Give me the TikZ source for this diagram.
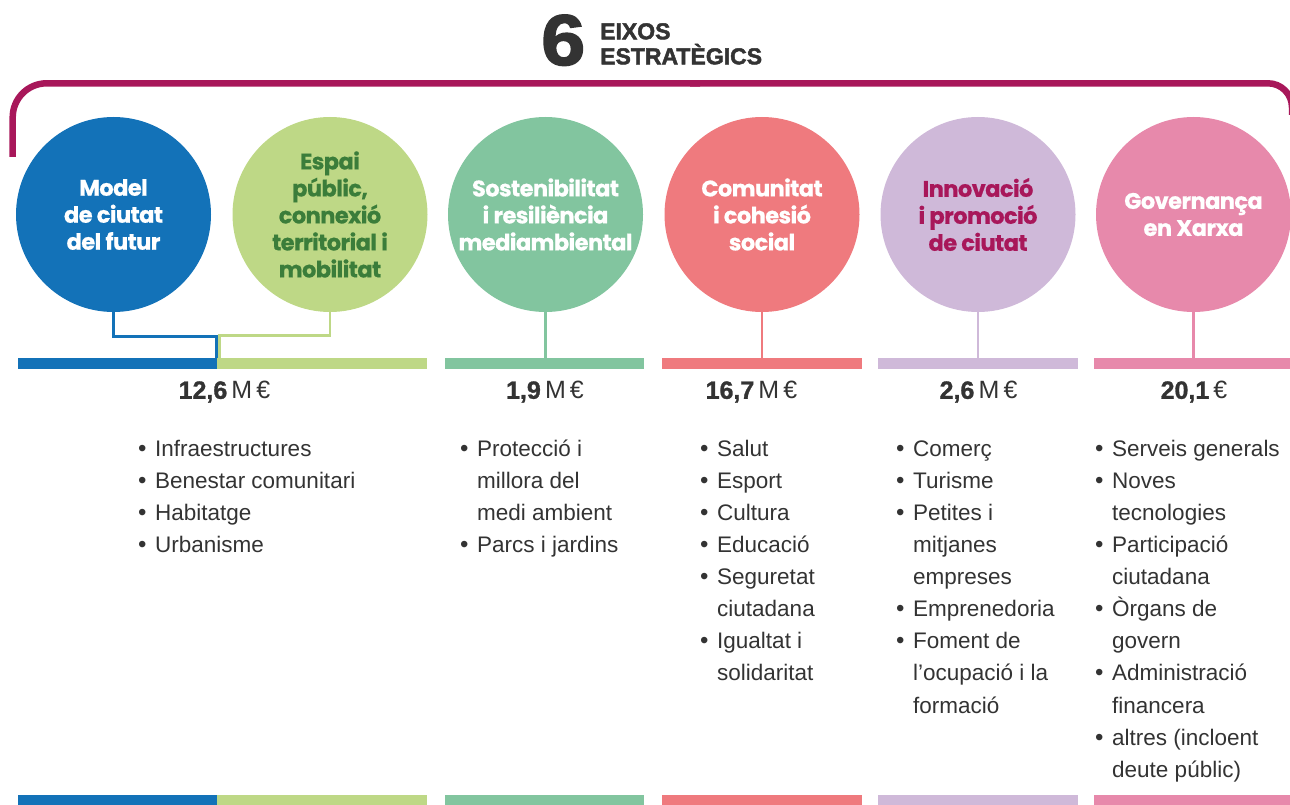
\documentclass[tikz,border=0pt]{standalone}
\usepackage{fontspec}
\setmainfont{Liberation Sans}
\newfontfamily\circfont{Poppins}[BoldFeatures={FakeBold=0.6, LetterSpace=-2.5}]
\newfontfamily\headfont{Liberation Sans}[BoldFeatures={FakeBold=2}]
\newfontfamily\amtfont{Liberation Sans}[BoldFeatures={FakeBold=1.2}]
\definecolor{cblue}{HTML}{1372B8}
\definecolor{clime}{HTML}{BED886}
\definecolor{cdkgreen}{HTML}{3B7D3A}
\definecolor{cteal}{HTML}{82C59F}
\definecolor{ccoral}{HTML}{EF7A7E}
\definecolor{clilac}{HTML}{CFB9D9}
\definecolor{cmag}{HTML}{A8175A}
\definecolor{cpink}{HTML}{E789AB}
\definecolor{cframe}{HTML}{A8175A}
\definecolor{ctext}{HTML}{333333}
\definecolor{ctitle}{HTML}{333333}
\newcommand{\bul}{\makebox[17pt][l]{\fontsize{24}{24}\selectfont•}}
\newcommand{\ind}{\hspace*{17pt}}
\newcommand{\firstrule}{\rule{0pt}{17pt}}
\tikzset{
  circ/.style={circle, minimum size=195pt, inner sep=0pt, align=center,
    font=\circfont\bfseries\fontsize{22.5}{27}\selectfont},
  bar/.style={rectangle, inner sep=0pt, minimum height=11pt},
  stem/.style={line width=2.4pt},
  amount/.style={font=\amtfont\fontsize{25}{25}\selectfont, text=ctext, inner sep=0pt},
  list/.style={anchor=north west, align=left, inner sep=0pt, text=ctext,
    font=\fontsize{22.5}{32.1}\selectfont},
  head/.style={anchor=base west, inner sep=0pt, text=ctitle, font=\headfont\bfseries\fontsize{23}{23}\selectfont}
}
\begin{document}
\begin{tikzpicture}[x=1pt,y=-1pt]
\useasboundingbox (0,0) rectangle (1290,805);
% title
\node[anchor=base west, inner sep=0pt, text=ctitle, font=\headfont\bfseries\fontsize{72}{72}\selectfont, xscale=1.1] (six) at (541,65) {6};
\node[head] (t1) at (600,39.3) {EIXOS};
\node[head] (t2) at (600,64.3) {ESTRATÈGICS};
% frame
\draw[cframe, line width=6.5pt, rounded corners=34pt] (12.7,157) -- (12.7,83.3) -- (700,83.3);
\draw[cframe, line width=6.5pt, rounded corners=24pt] (690,83.3) -- (1292,83.3) -- (1292,115);
% circles
\node[circ, fill=cblue, text=white] (c1) at (113.5,214.5) {Model\\de ciutat\\del futur};
\node[circ, fill=clime, text=cdkgreen] (c2) at (330,214.5) {Espai\\públic,\\connexió\\territorial i\\mobilitat};
\node[circ, fill=cteal, text=white] (c3) at (545.5,214.5) {Sostenibilitat\\i resiliència\\mediambiental};
\node[circ, fill=ccoral, text=white] (c4) at (762,214.5) {Comunitat\\i cohesió\\social};
\node[circ, fill=clilac, text=cmag] (c5) at (978,214.5) {Innovació\\i promoció\\de ciutat};
\node[circ, fill=cpink, text=white] (c6) at (1193.5,214.5) {Governança\\en Xarxa};
% top bars
\node[bar, fill=cblue, minimum width=199pt] (b1) at (117.5,363.5) {};
\node[bar, fill=clime, minimum width=210pt] (b2) at (322,363.5) {};
\node[bar, fill=cteal, minimum width=199pt] (b3) at (544.5,363.5) {};
\node[bar, fill=ccoral, minimum width=200pt] (b4) at (762,363.5) {};
\node[bar, fill=clilac, minimum width=200pt] (b5) at (978,363.5) {};
\node[bar, fill=cpink, minimum width=200pt] (b6) at (1194,363.5) {};
% bottom bars
\node[bar, fill=cblue, minimum width=199pt] (d1) at (117.5,800.5) {};
\node[bar, fill=clime, minimum width=210pt] (d2) at (322,800.5) {};
\node[bar, fill=cteal, minimum width=199pt] (d3) at (544.5,800.5) {};
\node[bar, fill=ccoral, minimum width=200pt] (d4) at (762,800.5) {};
\node[bar, fill=clilac, minimum width=200pt] (d5) at (978,800.5) {};
\node[bar, fill=cpink, minimum width=200pt] (d6) at (1194,800.5) {};
% stems
\coordinate (j1) at (216.5,336.5);
\coordinate (j2) at (219.5,335.5);
\draw[cblue, stem] (c1.south) |- (j1) -- (j1 |- b1.north);
\draw[clime, stem] (c2.south) |- (j2) -- (j2 |- b2.north);
\draw[cteal, stem] (c3.south) -- (c3.south |- b3.north);
\draw[ccoral, stem] (c4.south) -- (c4.south |- b4.north);
\draw[clilac, stem] (c5.south) -- (c5.south |- b5.north);
\draw[cpink, stem] (c6.south) -- (c6.south |- b6.north);
% amounts
\node[amount] (a1) at (224.5,392) {\textbf{12,6}\,M\,€};
\node[amount] (a3) at (545,392) {\textbf{1,9}\,M\,€};
\node[amount] (a4) at (751.5,392) {\textbf{16,7}\,M\,€};
\node[amount] (a5) at (978.5,392) {\textbf{2,6}\,M\,€};
\node[amount] (a6) at (1194,392) {\textbf{20,1}\,€};
% lists
\node[list] (l1) at (138,439) {\firstrule\bul Infraestructures\\\bul Benestar comunitari\\\bul Habitatge\\\bul Urbanisme};
\node[list] (l3) at (460,439) {\firstrule\bul Protecció i\\\ind millora del\\\ind medi ambient\\\bul Parcs i jardins};
\node[list] (l4) at (700,439) {\firstrule\bul Salut\\\bul Esport\\\bul Cultura\\\bul Educació\\\bul Seguretat\\\ind ciutadana\\\bul Igualtat i\\\ind solidaritat};
\node[list] (l5) at (896,439) {\firstrule\bul Comerç\\\bul Turisme\\\bul Petites i\\\ind mitjanes\\\ind empreses\\\bul Emprenedoria\\\bul Foment de\\\ind l’ocupació i la\\\ind formació};
\node[list] (l6) at (1095,439) {\firstrule\bul Serveis generals\\\bul Noves\\\ind tecnologies\\\bul Participació\\\ind ciutadana\\\bul Òrgans de\\\ind govern\\\bul Administració\\\ind financera\\\bul altres (incloent\\\ind deute públic)};
\end{tikzpicture}
\end{document}
